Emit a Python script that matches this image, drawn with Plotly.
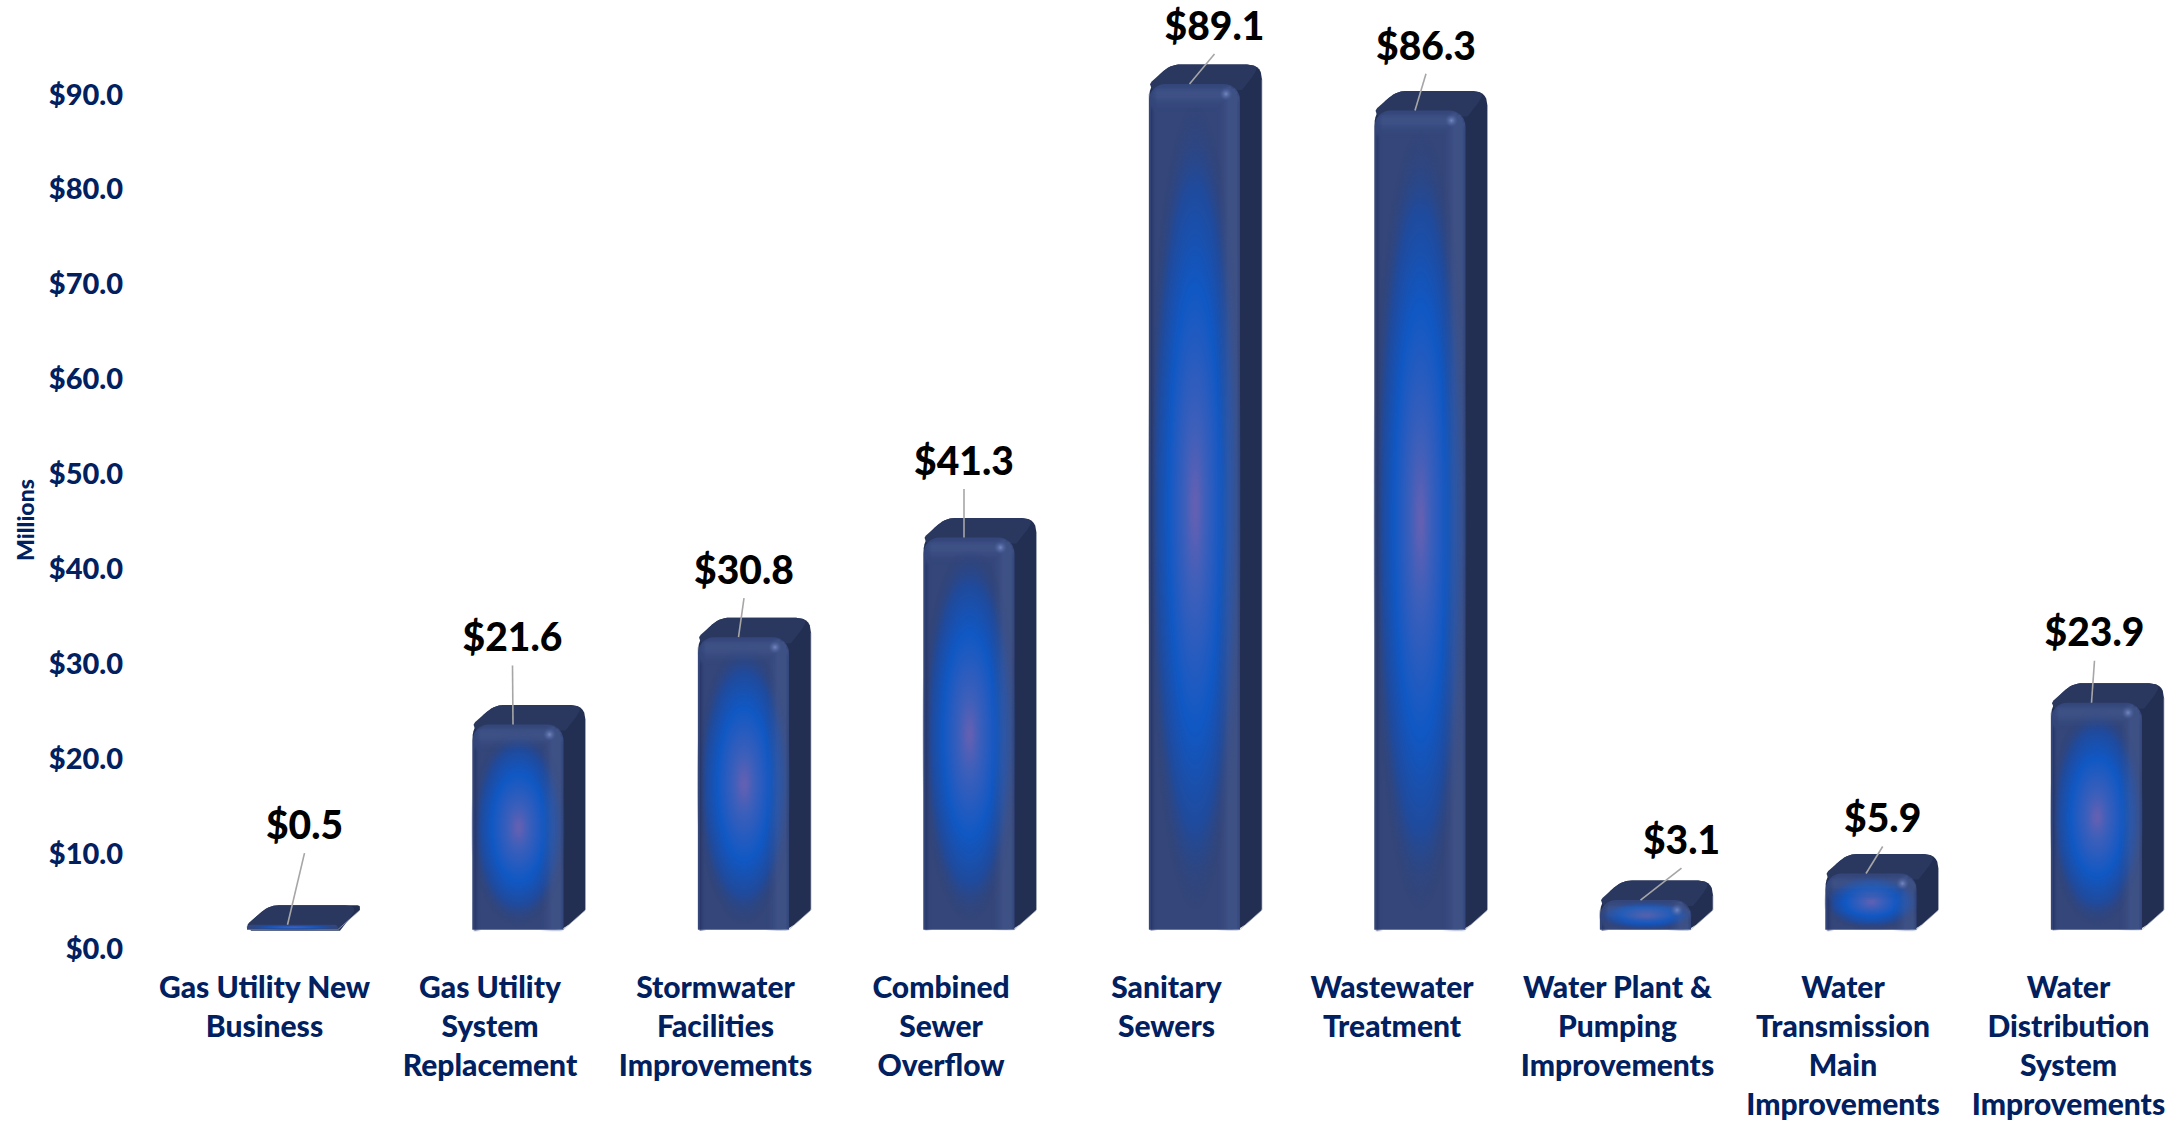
import numpy as np
import plotly.graph_objects as go

# ---- data ----
categories = [
    "Gas Utility New<br>Business",
    "Gas Utility<br>System<br>Replacement",
    "Stormwater<br>Facilities<br>Improvements",
    "Combined<br>Sewer<br>Overflow",
    "Sanitary<br>Sewers",
    "Wastewater<br>Treatment",
    "Water Plant &<br>Pumping<br>Improvements",
    "Water<br>Transmission<br>Main<br>Improvements",
    "Water<br>Distribution<br>System<br>Improvements",
]
values = [0.5, 21.6, 30.8, 41.3, 89.1, 86.3, 3.1, 5.9, 23.9]
axis_ticks = [0, 10, 20, 30, 40, 50, 60, 70, 80, 90]
leader_dx = [17, -0.5, 5.5, 0, 25, 11, 41, 16.7, 3]
leader_dy = [71.6, 59, 39, 48.5, 30, 36.7, 32, 27, 42]

# ---- page layout (pixels) ----
W, H = 2182, 1121
PLOT_L, PLOT_R, PLOT_T, PLOT_B = 124, 2182, 0, 967
PX_X = 225.5      # pixels per category
PX_Y = 9.49       # pixels per million
C0 = 292.5        # pixel centre of first bar front
BASE = 929.5      # pixel of bar front baseline
LABEL_ZERO = 948.5  # pixel of axis label for 0
FW, DX, DY = 91.0, 22.0, 19.5   # front width, depth offsets
NAVY = "#002060"
FONT = "Lato"

xrange_ = [(PLOT_L - C0) / PX_X, (PLOT_R - C0) / PX_X]
yr_bars = [(BASE - PLOT_B) / PX_Y, (BASE - PLOT_T) / PX_Y]
yr_lab = [(LABEL_ZERO - PLOT_B) / PX_Y, (LABEL_ZERO - PLOT_T) / PX_Y]


def rounded(points, radii, n=8):
    out = []
    m = len(points)
    for k in range(m):
        p = np.array(points[k], float)
        a = np.array(points[k - 1], float)
        b = np.array(points[(k + 1) % m], float)
        r = radii[k]
        la, lb = np.linalg.norm(a - p), np.linalg.norm(b - p)
        r = min(r, la / 2, lb / 2)
        if r <= 0:
            out.append(p)
            continue
        s = p + (a - p) / la * r
        e = p + (b - p) / lb * r
        for t in np.linspace(0, 1, n):
            out.append((1 - t) ** 2 * s + 2 * t * (1 - t) * p + t ** 2 * e)
    return np.array(out)


def to_data(i, v_px_pts):
    # offsets in px from bar front bottom-left -> data coordinates
    x = i + (v_px_pts[:, 0] - FW / 2) / PX_X
    y = v_px_pts[:, 1] / PX_Y
    return x, y


fig = go.Figure()
pos = list(range(len(values)))

# --- depth faces (behind the front) ---
for i, v in enumerate(values):
    h = v * PX_Y
    sil = rounded(
        [(0, 0), (0, h), (DX, h + DY), (FW + DX, h + DY), (FW + DX, DY), (FW, 0)],
        [0, 20, 10, 15, 1, 8],
    )
    x, y = to_data(i, sil)
    fig.add_trace(go.Scatter(x=x, y=y, yaxis="y2", mode="lines", fill="toself",
                             fillcolor="#222F52", line=dict(width=0), hoverinfo="skip", showlegend=False))
    top = rounded(
        [(0, h), (DX, h + DY), (FW + DX, h + DY), (FW + 2, h - 6), (4, h - 6)],
        [20, 10, 15, 0, 0],
    )
    x, y = to_data(i, top)
    fig.add_trace(go.Scatter(x=x, y=y, yaxis="y2", mode="lines", fill="toself",
                             fillcolor="#2A3860", line=dict(width=0), hoverinfo="skip", showlegend=False))
    edge = np.array([(0, h - 10 if h > 10 else 0), (0, 0.0), (FW - 8, 0), (FW, 0), (FW + DX, DY), (FW + DX, h + DY - 15 if h > 6 else DY)])
    x, y = to_data(i, edge)
    fig.add_trace(go.Scatter(x=x, y=y, yaxis="y2", mode="lines",
                             line=dict(width=1, color="rgba(170,175,190,0.7)"), hoverinfo="skip", showlegend=False))

# --- front faces: real bars ---
fig.add_trace(go.Bar(x=pos, y=values, yaxis="y3", width=FW / PX_X,
                     marker=dict(color="#34467A", cornerradius=16, line=dict(width=0)),
                     hoverinfo="skip", showlegend=False))

# --- glow + bevel textures over the fronts ---
GLOW = [[0, "rgba(104,96,178,1)"], [0.2, "rgba(62,95,186,1)"], [0.55, "rgba(16,88,196,1)"],
        [0.8, "rgba(30,75,160,0.9)"], [1, "rgba(45,68,125,0)"]]
BEVEL = [[0, "rgba(22,32,75,0.7)"], [0.5, "rgba(60,80,135,0)"], [1, "rgba(85,105,160,0.32)"]]
for i, v in enumerate(values):
    h = v * PX_Y
    ny = int(max(10, h / 3))
    X = np.linspace(0, FW, 46)
    Y = np.linspace(0, h, ny)
    XX, YY = np.meshgrid(X, Y)
    r = np.sqrt(((XX - FW / 2) / (FW / 2 * 1.05)) ** 2 + ((YY - h / 2) / (h / 2 * 0.95)) ** 2)
    fig.add_trace(go.Heatmap(x=i + (X - FW / 2) / PX_X, y=Y / PX_Y, z=np.clip(r, 0, 1), yaxis="y4",
                             colorscale=GLOW, zmin=0, zmax=1, zsmooth="best", showscale=False, hoverinfo="skip"))
    if h > 12:
        Y2 = np.linspace(0, h, int(max(14, h / 2.5)))
        XX, YY = np.meshgrid(X, Y2)
        right = np.clip((XX - (FW - 24)) / 12, 0, 1) * np.clip((FW - XX) / 4, 0, 1)
        topb = np.clip((YY - (h - 26)) / 14, 0, 1) * np.clip((h - YY) / 6, 0, 1)
        left = np.clip(1 - XX / 8, 0, 1)
        z = np.maximum(right, topb) - left
        # keep the corners rounded
        cx = np.clip(XX, 16, FW - 16)
        cy = np.minimum(YY, h - 16)
        z[np.hypot(XX - cx, YY - cy) > 15] = 0
        fig.add_trace(go.Heatmap(x=i + (X - FW / 2) / PX_X, y=Y2 / PX_Y, z=z, yaxis="y4",
                                 colorscale=BEVEL, zmin=-1, zmax=1, zsmooth="best", showscale=False, hoverinfo="skip"))

# --- corner highlights ---
hi = [i for i, v in enumerate(values) if v > 2]
fig.add_trace(go.Scatter(
    x=[i + (FW - 14 - FW / 2) / PX_X for i in hi],
    y=[values[i] - 10 / PX_Y for i in hi],
    yaxis="y4", mode="markers", hoverinfo="skip", showlegend=False,
    marker=dict(size=13, color="rgba(80,100,160,0)", line=dict(width=0),
                gradient=dict(type="radial", color="rgba(120,140,200,0.9)")),
))

# --- leader lines and value labels ---
lx, ly = [], []
tx, ty = [], []
for i, v in enumerate(values):
    x0 = i - 5 / PX_X
    x1 = x0 + leader_dx[i] / PX_X
    y1 = v + leader_dy[i] / PX_Y
    lx += [x0, x1, None]
    ly += [v, y1, None]
    tx.append(x1)
    ty.append(y1 + 24 / PX_Y)
fig.add_trace(go.Scatter(x=lx, y=ly, yaxis="y4", mode="lines", line=dict(color="#A6A6A6", width=1.6),
                         hoverinfo="skip", showlegend=False))
fig.add_trace(go.Scatter(x=tx, y=ty, yaxis="y4", mode="text", text=[f"${v:.1f}" for v in values],
                         textposition="middle center", cliponaxis=False,
                         textfont=dict(family=FONT, size=39, color="#000000", weight=900),
                         hoverinfo="skip", showlegend=False))

hidden = dict(overlaying="y", range=yr_bars, visible=False, anchor="x", fixedrange=True)
fig.update_layout(
    width=W, height=H, autosize=False, paper_bgcolor="white", plot_bgcolor="white",
    margin=dict(l=PLOT_L, r=W - PLOT_R, t=PLOT_T, b=H - PLOT_B, pad=0),
    showlegend=False, barmode="overlay",
    xaxis=dict(range=xrange_, tickmode="array", tickvals=[p - 28 / PX_X for p in pos], ticktext=categories,
               tickangle=0, showgrid=False, zeroline=False, showline=False, ticks="", ticklen=0,
               tickfont=dict(family=FONT, size=30, color=NAVY, weight=900)),
    yaxis=dict(range=yr_lab, tickmode="array", tickvals=axis_ticks, ticktext=[f"${t}.0" for t in axis_ticks],
               showgrid=False, zeroline=False, showline=False, ticks="",
               tickfont=dict(family=FONT, size=29, color=NAVY, weight=900)),
    yaxis2=hidden, yaxis3=hidden, yaxis4=hidden,
    annotations=[dict(text="Millions", xref="paper", yref="y", x=(25 - PLOT_L) / (PLOT_R - PLOT_L), y=(LABEL_ZERO - 520) / PX_Y,
                      xanchor="center", yanchor="middle", textangle=-90, showarrow=False,
                      font=dict(family=FONT, size=23, color=NAVY, weight=900))],
)

fig.write_html("out.html", config=dict(displayModeBar=False),
               post_script="document.body.style.margin='0';document.documentElement.style.overflow='hidden';")
